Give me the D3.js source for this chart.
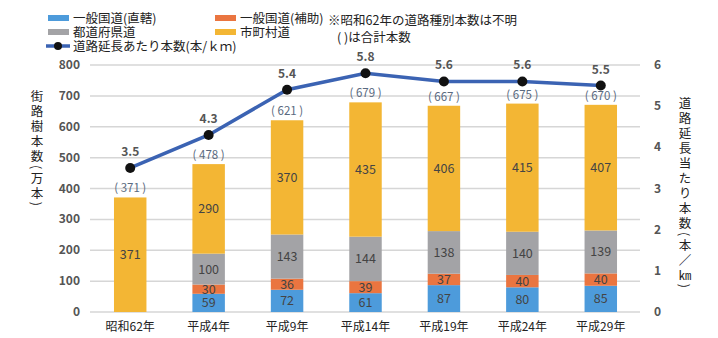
<!DOCTYPE html>
<html>
<head>
<meta charset="utf-8">
<script src="https://cdn.jsdelivr.net/npm/d3@7"></script>
<style>
  body { margin: 0; background: #fff; }
  svg { font-family: "Noto Sans CJK JP", "Noto Sans", sans-serif; }
  .tick-label { fill: #555; font-size: 12px; font-weight: bold; }
  .val { fill: #444; font-size: 12.5px; text-anchor: middle; }
  .vtitle { writing-mode: vertical-rl; font-size: 12.5px; fill: #222; }
</style>
</head>
<body>
<svg id="chart"></svg>
<script>
const categories = ['昭和62年', '平成4年', '平成9年', '平成14年', '平成19年', '平成24年', '平成29年'];
const kokudoChokkatsu = [0, 59, 72, 61, 87, 80, 85];
const kokudoHojo = [0, 30, 36, 39, 37, 40, 40];
const todofuken = [0, 100, 143, 144, 138, 140, 139];
const shichoson = [371, 290, 370, 435, 406, 415, 407];
const totals = [371, 478, 621, 679, 667, 675, 670];
const perKm = [3.5, 4.3, 5.4, 5.8, 5.6, 5.6, 5.5];
const leftTicks = [0, 100, 200, 300, 400, 500, 600, 700, 800];
const rightTicks = [0, 1, 2, 3, 4, 5, 6];

const seriesNames = ['一般国道(直轄)', '一般国道(補助)', '都道府県道', '市町村道'];
const seriesColors = ['#4d9bdb', '#ea7540', '#a3a3a6', '#f3b634'];
const seriesValues = [kokudoChokkatsu, kokudoHojo, todofuken, shichoson];

const width = 718, height = 338;
const svg = d3.select('#chart').attr('width', width).attr('height', height);

const x = d3.scaleBand().domain(categories).range([91, 640]).paddingInner(0.586).paddingOuter(0.293);
const yL = d3.scaleLinear().domain([0, 800]).range([312, 65]);
const yR = d3.scaleLinear().domain([0, 6]).range([312, 65]);

// grid
svg.append('g').selectAll('line').data(leftTicks).enter().append('line')
  .attr('x1', 90).attr('x2', 640)
  .attr('y1', d => yL(d)).attr('y2', d => yL(d))
  .attr('stroke', '#d6d6d6').attr('stroke-width', 1.5);

// left axis labels
svg.append('g').selectAll('text').data(leftTicks).enter().append('text')
  .attr('class', 'tick-label').attr('text-anchor', 'end')
  .attr('x', 80).attr('y', d => yL(d) + 4).text(d => d);

// right axis labels
svg.append('g').selectAll('text').data(rightTicks).enter().append('text')
  .attr('class', 'tick-label').attr('text-anchor', 'start')
  .attr('x', 654).attr('y', d => yR(d) + 4).text(d => d);

// stacks
const rows = categories.map((c, i) => {
  const r = { cat: c };
  seriesValues.forEach((s, k) => { r['s' + k] = s[i]; });
  return r;
});
const stack = d3.stack().keys(seriesValues.map((s, k) => 's' + k));
const layers = stack(rows);

const layerG = svg.append('g').selectAll('g').data(layers).enter().append('g')
  .attr('fill', (d, k) => seriesColors[k]);
layerG.selectAll('rect').data(d => d).enter().append('rect')
  .attr('x', d => x(d.data.cat))
  .attr('width', x.bandwidth())
  .attr('y', d => yL(d[1]))
  .attr('height', d => yL(d[0]) - yL(d[1]));

layerG.selectAll('text').data(d => d.filter(p => p[1] - p[0] > 0)).enter().append('text')
  .attr('class', 'val')
  .attr('x', d => x(d.data.cat) + x.bandwidth() / 2)
  .attr('y', d => (yL(d[0]) + yL(d[1])) / 2 + 4.5)
  .text(d => d[1] - d[0]);

// totals
svg.append('g').selectAll('text').data(totals).enter().append('text')
  .attr('text-anchor', 'middle').attr('font-size', 11.5).attr('fill', '#5a6a80')
  .attr('x', (d, i) => x(categories[i]) + x.bandwidth() / 2)
  .attr('y', d => yL(d) - 5)
  .text(d => '( ' + d + ' )');

// line
const cx = i => x(categories[i]) + x.bandwidth() / 2;
const line = d3.line().x((d, i) => cx(i)).y(d => yR(d));
svg.append('path').datum(perKm)
  .attr('d', line).attr('fill', 'none')
  .attr('stroke', '#3b63b3').attr('stroke-width', 3.5);
svg.append('g').selectAll('circle').data(perKm).enter().append('circle')
  .attr('cx', (d, i) => cx(i)).attr('cy', d => yR(d)).attr('r', 5).attr('fill', '#111');
svg.append('g').selectAll('text').data(perKm).enter().append('text')
  .attr('text-anchor', 'middle').attr('font-size', 12).attr('font-weight', 'bold').attr('fill', '#555')
  .attr('x', (d, i) => cx(i)).attr('y', d => yR(d) - 12)
  .text(d => d.toFixed(1));

// category labels
svg.append('g').selectAll('text').data(categories).enter().append('text')
  .attr('text-anchor', 'middle').attr('font-size', 12).attr('fill', '#222')
  .attr('x', d => x(d) + x.bandwidth() / 2).attr('y', 331).text(d => d);

// axis titles
svg.append('text').attr('class', 'vtitle').attr('x', 37).attr('y', 90)
  .style('letter-spacing', '2.5px').text('街路樹本数(万本)');
svg.append('text').attr('class', 'vtitle').attr('x', 685).attr('y', 97)
  .style('letter-spacing', '2.5px').text('道路延長当たり本数(本／㎞)');

// legend
const legendPos = [[48, 18], [215, 18], [48, 32], [215, 32]];
seriesNames.forEach((n, k) => {
  const [lx, ly] = legendPos[k];
  svg.append('rect').attr('x', lx).attr('y', ly - 3).attr('width', 21).attr('height', 6).attr('fill', seriesColors[k]);
  svg.append('text').attr('x', lx + 25).attr('y', ly + 5).attr('font-size', 12.5).attr('fill', '#222').text(n);
});
svg.append('line').attr('x1', 46).attr('x2', 70).attr('y1', 46).attr('y2', 46)
  .attr('stroke', '#3b63b3').attr('stroke-width', 3.5);
svg.append('circle').attr('cx', 58).attr('cy', 46).attr('r', 4).attr('fill', '#111');
svg.append('text').attr('x', 73).attr('y', 51).attr('font-size', 12.5).attr('fill', '#222').text('道路延長あたり本数(本/ｋｍ)');

svg.append('text').attr('x', 328).attr('y', 25).attr('font-size', 12.5).attr('fill', '#222').text('※昭和62年の道路種別本数は不明');
svg.append('text').attr('x', 337).attr('y', 42).attr('font-size', 12.5).attr('fill', '#222').text('( )は合計本数');
</script>
</body>
</html>
